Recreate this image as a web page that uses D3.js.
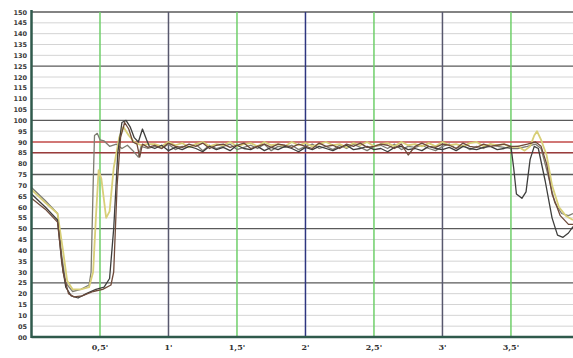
<!DOCTYPE html>
<html>
<head>
<meta charset="utf-8">
<script src="https://cdn.jsdelivr.net/npm/d3@7"></script>
<style>
  html, body { margin: 0; padding: 0; background: #fff; }
  svg { display: block; }
</style>
</head>
<body>
<div class="trendChart"></div>
<script>
// x ticks (minutes) and their labels
const xTicks = [0.5, 1, 1.5, 2, 2.5, 3, 3.5];
const xTickLabels = ["0,5'", "1'", "1,5'", "2'", "2,5'", "3'", "3,5'"];
// y ticks every 5, labels padded like the original print
const yTicks = d3.range(0, 151, 5);
const yTickLabels = yTicks.map((v) => (v < 10 ? "0" + v : "" + v));
// limit lines
const limitLines = [90, 85];

// plateau samples: one value every 0.05 min from 0.9 min
const plateauStart = 0.9;
const plateauStep = 0.05;

// series A (grey) - [minute, value]
const seriesAHead = [[0,69],[0.1,63],[0.19,57],[0.22,38],[0.25,25],[0.3,21],[0.36,22],[0.42,24],[0.435,30],[0.45,70],[0.46,93],[0.48,94],[0.5,91],[0.53,90.5],[0.57,88],[0.62,89],[0.66,87],[0.7,88.5],[0.74,86],[0.78,83],[0.8,88],[0.85,87]];
const seriesAPlateau = [88,87,89,86.5,88,87.5,89,86,88.5,87, 88,89,86.5,87.5,88.5,87,89,86,88,87.5, 88.5,86.5,88,89,87,88,86.5,88.5,87,89, 87.5,86,88,88.5,87,89,86.5,88,87.5,88.5, 87,86,88,89,87,88.5,86.5,88,87,89, 88,87.5,87];
const seriesATail = [[3.55,87],[3.62,88],[3.68,89],[3.72,87],[3.77,75],[3.82,62],[3.87,57],[3.92,56],[3.953,57]];

// series B (yellow)
const seriesBHead = [[0,68],[0.1,62],[0.19,57],[0.23,40],[0.26,26],[0.3,22],[0.36,22],[0.42,23],[0.45,30],[0.47,55],[0.49,77],[0.51,73],[0.545,55],[0.57,58],[0.6,78],[0.64,92],[0.67,97],[0.71,93],[0.75,90],[0.8,88.5],[0.85,89]];
const seriesBPlateau = [89,88,90,88.5,89.5,87.5,89,90,88,89, 88.5,90,88,89,89.5,88,90,88.5,89,88, 90,88.5,89.5,88,89,90,88.5,89,87.5,89.5, 88.5,90,88,89,89.5,88,90,88.5,89,88, 89.5,88,90,88.5,89,88,89.5,90,88,89, 88.5,89,87.5];
const seriesBTail = [[3.55,88],[3.6,86],[3.64,88],[3.67,93],[3.69,95],[3.72,91],[3.76,84],[3.8,70],[3.85,60],[3.9,56],[3.953,54]];

// series C (dark)
const seriesCHead = [[0,66],[0.1,60],[0.19,54],[0.22,35],[0.25,23],[0.29,19],[0.34,18],[0.4,20],[0.47,22],[0.53,23],[0.57,27],[0.6,50],[0.63,85],[0.66,99],[0.69,100],[0.72,97],[0.75,92],[0.78,90],[0.81,96],[0.84,91],[0.86,88]];
const seriesCPlateau = [87,88.5,86,87.5,86.5,88,87,85.5,88,86.5, 87.5,86,88.5,87,86.5,88,86,87.5,86.5,88, 87,85.5,87.5,86.5,88,87,86,87.5,88.5,86.5, 87,88,86.5,87,85.5,87.5,88,86.5,87,86, 88,87,86.5,87.5,86,88,87,86.5,87.5,88, 86.5,87,88];
const seriesCTail = [[3.52,78],[3.54,66],[3.58,64],[3.61,67],[3.64,82],[3.67,88],[3.7,87],[3.75,72],[3.8,55],[3.84,47],[3.88,46],[3.92,48],[3.953,51]];

// series D (brown)
const seriesDHead = [[0,64],[0.1,59],[0.19,53],[0.23,30],[0.27,20],[0.31,18.5],[0.37,19],[0.45,21],[0.52,22],[0.58,24],[0.6,30],[0.625,70],[0.65,92],[0.68,99],[0.71,96],[0.74,90],[0.77,89],[0.79,83],[0.81,89],[0.85,87.5]];
const seriesDPlateau = [88.5,87,89.5,88,87.5,89,88,89.5,87,88.5, 89,87.5,88.5,89.5,87,88,89,87.5,89,88.5, 87.5,89,88,87,89.5,88,88.5,87,89,88, 89.5,87.5,88,89,88.5,87,89,84,88,89.5, 88,87.5,89,88.5,87,89.5,88,87.5,89,88, 88.5,89,88];
const seriesDTail = [[3.55,88],[3.62,89],[3.68,90],[3.72,88],[3.76,80],[3.8,66],[3.86,56],[3.92,52],[3.953,52]];

const seriesColors = ["#7d7c72", "#d8cf78", "#3e3e3c", "#6e4a3a"];

const drawTrendChart = () => {
  const width = 573;
  const height = 358;
  d3.select(".trendChart").html("");
  const svg = d3
    .select(".trendChart")
    .append("svg")
    .attr("width", width)
    .attr("height", height);

  const x = d3.scaleLinear().domain([0, 3.953]).range([31.5, 573]);
  const y = d3.scaleLinear().domain([0, 150]).range([337, 12]);

  // horizontal grid
  svg
    .append("g")
    .selectAll("line")
    .data(yTicks)
    .enter()
    .append("line")
    .attr("x1", x(0))
    .attr("x2", width)
    .attr("y1", (d) => y(d))
    .attr("y2", (d) => y(d))
    .attr("stroke", (d) => (d % 25 === 0 ? "#5a5a5a" : "#d4d4d4"))
    .attr("stroke-width", (d) => (d % 25 === 0 ? 1.4 : 1));

  // vertical grid: green on half minutes, slate/navy on whole minutes
  svg
    .append("g")
    .selectAll("line")
    .data(xTicks)
    .enter()
    .append("line")
    .attr("x1", (d) => x(d))
    .attr("x2", (d) => x(d))
    .attr("y1", y(150))
    .attr("y2", y(0))
    .attr("stroke", (d) => (d === 2 ? "#2e3680" : d % 1 === 0 ? "#58586e" : "#6fcf6a"))
    .attr("stroke-width", 1.5);

  // limit lines
  svg
    .append("g")
    .selectAll("line")
    .data(limitLines)
    .enter()
    .append("line")
    .attr("x1", x(0))
    .attr("x2", width)
    .attr("y1", (d) => y(d))
    .attr("y2", (d) => y(d))
    .attr("stroke", (d, i) => (i === 0 ? "#c8504e" : "#9a3c3c"))
    .attr("stroke-width", 1.5);

  // build every series from head + plateau + tail
  const buildSeries = (head, plateau, tail) =>
    head
      .concat(plateau.map((v, i) => [plateauStart + i * plateauStep, v]))
      .concat(tail);
  const allSeries = [
    buildSeries(seriesAHead, seriesAPlateau, seriesATail),
    buildSeries(seriesBHead, seriesBPlateau, seriesBTail),
    buildSeries(seriesCHead, seriesCPlateau, seriesCTail),
    buildSeries(seriesDHead, seriesDPlateau, seriesDTail),
  ];
  const line = d3
    .line()
    .x((d) => x(d[0]))
    .y((d) => y(d[1]));
  svg
    .append("g")
    .selectAll("path")
    .data(allSeries)
    .enter()
    .append("path")
    .attr("d", line)
    .attr("fill", "none")
    .attr("stroke", (d, i) => seriesColors[i])
    .attr("stroke-width", (d, i) => (i === 1 ? 1.8 : 1.3))
    .attr("stroke-linejoin", "round");

  // axes frame (dark green)
  svg
    .append("line")
    .attr("x1", x(0))
    .attr("x2", x(0))
    .attr("y1", y(150) - 2)
    .attr("y2", y(0) + 1)
    .attr("stroke", "#2f5a4c")
    .attr("stroke-width", 2.5);
  svg
    .append("line")
    .attr("x1", x(0))
    .attr("x2", width)
    .attr("y1", y(0))
    .attr("y2", y(0))
    .attr("stroke", "#2f5a4c")
    .attr("stroke-width", 2.5);

  // y labels
  svg
    .append("g")
    .selectAll("text")
    .data(yTicks)
    .enter()
    .append("text")
    .attr("x", 27)
    .attr("y", (d) => y(d) + 2.5)
    .attr("text-anchor", "end")
    .attr("font-family", "DejaVu Sans")
    .attr("font-weight", "bold")
    .attr("font-size", 6.5)
    .attr("fill", "#3a3a3a")
    .text((d, i) => yTickLabels[i]);

  // x labels
  svg
    .append("g")
    .selectAll("text")
    .data(xTicks)
    .enter()
    .append("text")
    .attr("x", (d) => x(d))
    .attr("y", 350)
    .attr("text-anchor", "middle")
    .attr("font-family", "DejaVu Serif")
    .attr("font-weight", "bold")
    .attr("font-size", 8)
    .attr("fill", "#333")
    .text((d, i) => xTickLabels[i]);
};

drawTrendChart();
</script>
</body>
</html>
